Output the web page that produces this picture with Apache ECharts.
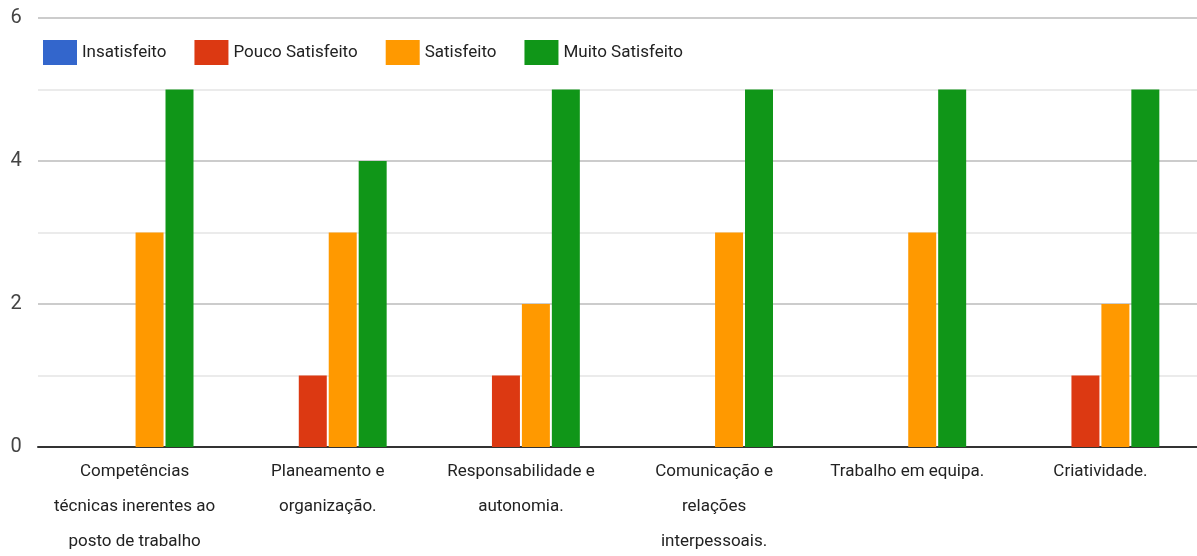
<!DOCTYPE html>
<html>
<head>
<meta charset="utf-8">
<script src="https://cdn.jsdelivr.net/npm/echarts@6/dist/echarts.min.js"></script>
<style>
html,body{margin:0;padding:0;background:#fff;}
#chart{width:1197px;height:556px;}
</style>
</head>
<body>
<div id="chart"></div>
<script>
var categories = [
  "Competências\ntécnicas inerentes ao\nposto de trabalho",
  "Planeamento e\norganização.",
  "Responsabilidade e\nautonomia.",
  "Comunicação e\nrelações\ninterpessoais.",
  "Trabalho em equipa.",
  "Criatividade."
];
var seriesNames = ["Insatisfeito", "Pouco Satisfeito", "Satisfeito", "Muito Satisfeito"];
var insatisfeito = [0, 0, 0, 0, 0, 0];
var poucoSatisfeito = [0, 1, 1, 0, 0, 1];
var satisfeito = [3, 3, 2, 3, 3, 2];
var muitoSatisfeito = [5, 4, 5, 5, 5, 5];
var colors = ["#3366cc", "#dc3912", "#ff9900", "#109618"];

var FONT = "Roboto";
var FS = 17;
var values = [insatisfeito, poucoSatisfeito, satisfeito, muitoSatisfeito];

var chart = echarts.init(document.getElementById('chart'));
chart.setOption({
  animation: false,
  color: colors,
  textStyle: { fontFamily: FONT, fontSize: FS },
  legend: {
    left: 38,
    top: 35,
    itemWidth: 34,
    itemHeight: 25,
    itemGap: 28,
    icon: 'rect',
    textStyle: { fontSize: FS, color: '#222', fontFamily: FONT },
    data: seriesNames
  },
  grid: { left: 38, right: 0, top: 18, bottom: 109, containLabel: false, outerBoundsMode: 'none' },
  xAxis: {
    type: 'category',
    data: categories,
    axisLine: { lineStyle: { color: '#333', width: 2 } },
    axisTick: { show: false },
    axisLabel: {
      interval: 0,
      fontSize: FS,
      lineHeight: 35,
      color: '#222',
      margin: 7,
      fontFamily: FONT
    }
  },
  yAxis: {
    type: 'value',
    min: 0,
    max: 6,
    interval: 2,
    axisLine: { show: false },
    axisTick: { show: false },
    axisLabel: { fontSize: 20, color: '#444', margin: 22, align: 'center', fontFamily: FONT },
    splitLine: { lineStyle: { color: '#cccccc', width: 2 } },
    minorTick: { show: false, splitNumber: 2 },
    minorSplitLine: { show: true, lineStyle: { color: '#ebebeb', width: 2 } }
  },
  series: seriesNames.map(function (name, i) {
    return {
      name: name,
      type: 'bar',
      data: values[i],
      barCategoryGap: '39%',
      barGap: '7%'
    };
  })
});
</script>
</body>
</html>
